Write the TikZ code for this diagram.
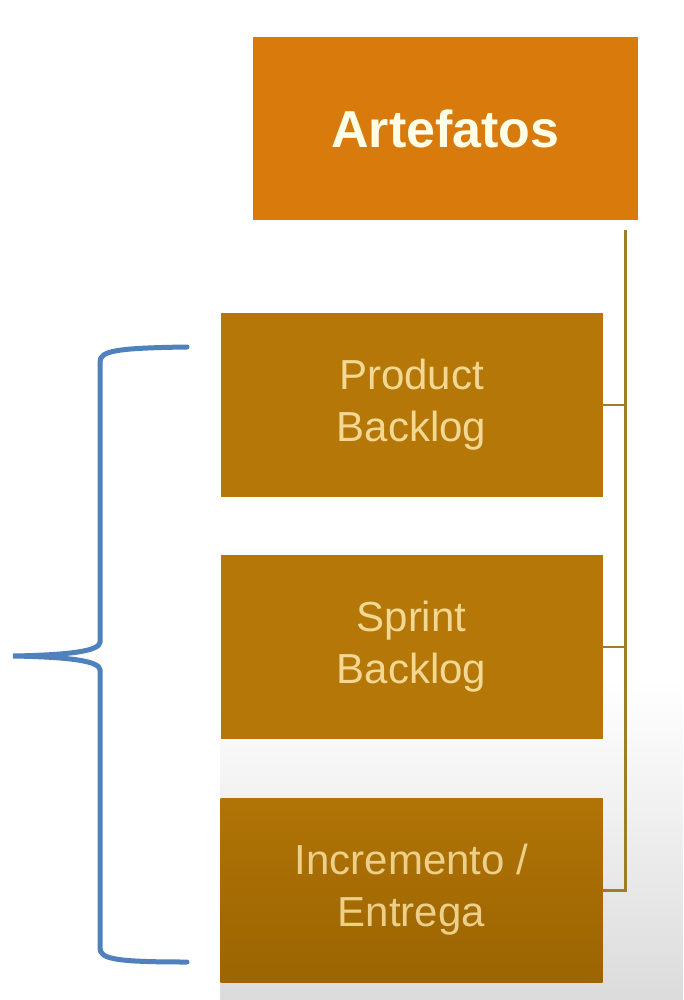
\documentclass[tikz,border=0pt]{standalone}
\usepackage{fontspec}
\setmainfont{Liberation Sans}
\usepackage{tikz}
\usetikzlibrary{positioning,calc}

\definecolor{artorange}{HTML}{D87A0C}
\definecolor{boxbrown}{HTML}{B57707}
\definecolor{boxdark}{HTML}{9C6502}
\definecolor{boxtext}{HTML}{F3D894}
\definecolor{spinegold}{HTML}{9E7C2C}
\definecolor{braceblue}{HTML}{4F81BD}

\begin{document}
\begin{tikzpicture}[x=1pt,y=-1pt]
				\tikzset{artbox/.style={fill=artorange,minimum width=385pt,minimum height=183pt,inner sep=0pt,
					text=white!90!yellow,font=\bfseries\fontsize{52}{60}\selectfont}}
				\tikzset{itembox/.style={fill=boxbrown,minimum width=382pt,minimum height=184pt,
					inner sep=0pt,align=center,text=boxtext,font=\fontsize{42}{52}\selectfont}}
				\tikzset{spine/.style={draw=spinegold,line width=3pt}}
				\useasboundingbox (0,0) rectangle (683,1000);
				\fill[white] (0,0) rectangle (683,1000);
				\shade[top color=white,bottom color=black!14] (220,680) rectangle (683,1000);
				\node[artbox] (artefatos) at (445.5,128.5) {Artefatos};
				\node[itembox] (product) at (411.5,405) {Product\\Backlog};
				\node[itembox] (sprint) at (411.5,646.5) {Sprint\\Backlog};
				\node[itembox,top color=boxbrown!80!boxdark,bottom color=boxdark,text=boxtext!92!boxdark] (incremento) at (411.5,890) {Incremento /\\Entrega};
				\coordinate (top) at ($(artefatos.south east)+(-13,10)$);
				\draw[spine] (top) |- (incremento.east);
				\draw[spine,line width=2pt] (product.east) -- (product.east -| top);
				\draw[spine,line width=2pt] (sprint.east) -- (sprint.east -| top);
				\draw[braceblue,line width=5pt,line cap=round]
					(187,347) .. controls (115,348) and (100,351) .. (100,362) -- (100,642)
					.. controls (100,651) and (70,655) .. (13,656)
					.. controls (70,657) and (100,661) .. (100,670) -- (100,948)
					.. controls (100,959) and (115,962) .. (187,962);
			\end{tikzpicture}
\end{document}
